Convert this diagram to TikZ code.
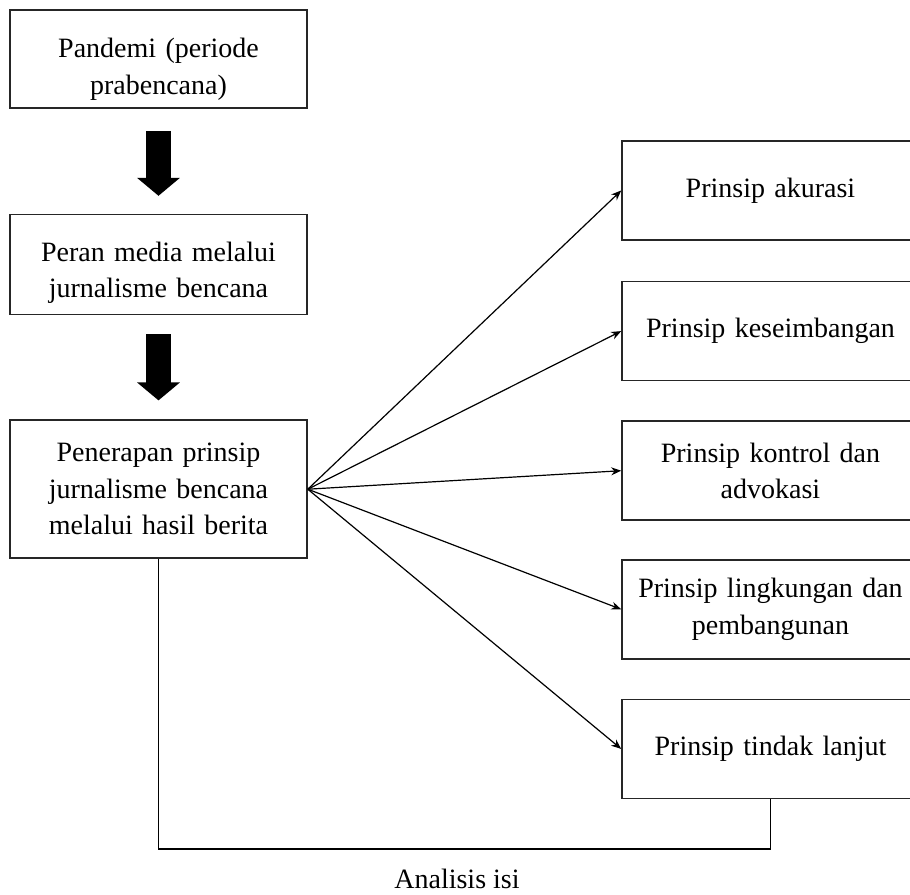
\documentclass[tikz,border=0pt]{standalone}
\usepackage{fontspec}
\setmainfont{Liberation Serif}
\usetikzlibrary{arrows.meta,positioning}

\begin{document}
\begin{tikzpicture}[
    x=0.5pt, y=-0.5pt,
    font=\fontsize{14pt}{18.25pt}\selectfont,
    box/.style={draw=black!85, line width=0.8pt, align=center, text width=148.5pt, minimum height=49.5pt, inner sep=0pt},
    drop/.style={execute at begin node={\rule{0pt}{#1}}},
    bigarrow/.style={line width=12.5pt, -{Triangle[length=9pt, width=21pt]}},
    flow/.style={-{Stealth[length=5pt, width=4pt]}, line width=0.6pt},
    loopline/.style={line width=0.8pt}
  ]
    \useasboundingbox (0,0) rectangle (910,894);
    \clip (0,0) rectangle (910,894);

    % left column
    \node[box, drop=20pt, minimum height=49pt] (pan) at (158.5,59) {Pandemi (periode\\prabencana)};
    \node[box, drop=18pt, minimum height=50pt, below=52.5pt of pan] (peran) {Peran media melalui\\jurnalisme bencana};
    \node[box, minimum height=69pt, below=52pt of peran] (pen) {Penerapan prinsip\\jurnalisme bencana\\melalui hasil berita};

    % right column
    \node[box] (akurasi) at (770.5,190.5) {Prinsip akurasi};
    \node[box, below=20pt of akurasi] (keseimbangan) {Prinsip keseimbangan};
    \node[box, below=19.5pt of keseimbangan] (kontrol) {Prinsip kontrol dan\\advokasi};
    \node[box, below=19pt of kontrol] (lingkungan) {Prinsip lingkungan dan\\pembangunan};
    \node[box, below=19.5pt of lingkungan] (tindak) {Prinsip tindak lanjut};

    \node[inner sep=0pt] (analisis) at (457,879) {Analisis isi};

    \draw[bigarrow] ([yshift=-11pt]pan.south) -- ([yshift=9pt]peran.north);
    \draw[bigarrow] ([yshift=-9.5pt]peran.south) -- ([yshift=9.5pt]pen.north);

    \foreach \t in {akurasi,keseimbangan,kontrol,lingkungan,tindak}
      \draw[flow] (pen.east) -- (\t.west);

    \draw[loopline] (pen.south) -- ++(0,290) -| (tindak.south);

\end{tikzpicture}
\end{document}
